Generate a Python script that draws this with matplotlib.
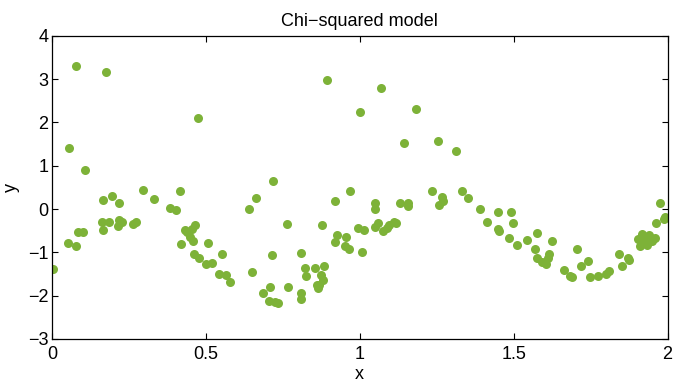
import numpy as np
import matplotlib
matplotlib.use("Agg")
import matplotlib.pyplot as plt

# values
x_vals = [0.004, 0.052, 0.055, 0.077, 0.077, 0.085, 0.100, 0.107, 0.162, 0.165,
          0.167, 0.177, 0.186, 0.195, 0.216, 0.218, 0.218, 0.226, 0.262, 0.273,
          0.295, 0.332, 0.382, 0.403, 0.415, 0.418, 0.431, 0.440, 0.447, 0.456,
          0.457, 0.460, 0.464, 0.476, 0.478, 0.500, 0.508, 0.520, 0.542, 0.554,
          0.564, 0.577, 0.639, 0.650, 0.664, 0.685, 0.706, 0.708, 0.716, 0.719,
          0.725, 0.735, 0.763, 0.766, 0.808, 0.809, 0.809, 0.821, 0.826, 0.856,
          0.860, 0.863, 0.869, 0.874, 0.876, 0.880, 0.884, 0.894, 0.918, 0.920,
          0.925, 0.953, 0.954, 0.964, 0.967, 0.995, 1.002, 1.008, 1.014, 1.048,
          1.048, 1.051, 1.060, 1.070, 1.077, 1.089, 1.095, 1.110, 1.119, 1.132,
          1.145, 1.157, 1.158, 1.183, 1.236, 1.255, 1.259, 1.266, 1.271, 1.312,
          1.332, 1.353, 1.389, 1.413, 1.449, 1.449, 1.451, 1.484, 1.491, 1.499,
          1.512, 1.543, 1.576, 1.570, 1.576, 1.593, 1.604, 1.613, 1.615, 1.623,
          1.663, 1.682, 1.688, 1.706, 1.719, 1.741, 1.749, 1.775, 1.801, 1.810,
          1.842, 1.853, 1.870, 1.876, 1.903, 1.909, 1.918, 1.925, 1.934, 1.939,
          1.948, 1.958, 1.963, 1.975, 1.988, 1.992]
y_vals = [-1.38, -0.78, 1.41, 3.30, -0.86, -0.53, -0.54, 0.90, -0.29, 0.21,
          -0.49, 3.17, -0.29, 0.31, -0.40, 0.15, -0.26, -0.30, -0.34, -0.31,
          0.43, 0.22, 0.02, -0.03, 0.42, -0.80, -0.49, -0.53, -0.65, -0.47,
          -0.75, -1.03, -0.37, 2.10, -1.14, -1.26, -0.79, -1.24, -1.51, -1.03,
          -1.52, -1.69, -0.01, -1.45, 0.25, -1.95, -2.13, -1.80, -1.06, 0.65,
          -2.15, -2.17, -0.35, -1.80, -1.94, -2.07, -1.02, -1.37, -1.54, -1.36,
          -1.75, -1.82, -1.75, -1.52, -0.37, -1.65, -1.32, 2.99, 0.19, -0.76,
          -0.60, -0.86, -0.65, -0.92, 0.42, -0.44, 2.24, -0.99, -0.49, 0.15,
          -0.42, 0.00, -0.32, 2.79, -0.51, -0.43, -0.36, -0.31, -0.32, 0.14,
          1.53, 0.15, 0.07, 2.30, 0.42, 1.58, 0.10, 0.28, 0.18, 1.35,
          0.42, 0.26, 0.01, -0.31, -0.06, -0.46, -0.50, -0.66, -0.06, -0.32,
          -0.83, -0.71, -0.56, -0.93, -1.14, -1.23, -1.28, -1.14, -1.03, -0.74,
          -1.41, -1.55, -1.58, -0.93, -1.32, -1.21, -1.58, -1.54, -1.51, -1.44,
          -1.03, -1.32, -1.14, -1.17, -0.69, -0.86, -0.57, -0.71, -0.83, -0.61,
          -0.73, -0.66, -0.32, 0.13, -0.23, -0.19]
x_ticks = [0, 0.5, 1, 1.5, 2]
x_tick_labels = ['0', '0.5', '1', '1.5', '2']
y_ticks = [-3, -2, -1, 0, 1, 2, 3, 4]

plt.rcParams['font.family'] = ['Liberation Sans', 'DejaVu Sans']

fig = plt.figure(figsize=(6.75, 3.82), dpi=100)
ax = fig.add_axes([0.077, 0.113, 0.912, 0.793])
ax.plot(x_vals, y_vals, 'o', color='#7db238', markersize=6.5, markeredgewidth=0)

ax.set_xlim(0, 2)
ax.set_ylim(-3, 4)
ax.set_xticks(x_ticks)
ax.set_xticklabels(x_tick_labels)
ax.set_yticks(y_ticks)
ax.tick_params(direction='in', top=True, right=True, length=4, width=0.8,
               labelsize=13)
ax.tick_params(axis='x', pad=5.5)
ax.tick_params(axis='y', pad=2.5)
for s in ax.spines.values():
    s.set_linewidth(0.9)

ax.set_title('Chi\u2212squared model', fontsize=13, pad=7)
ax.set_xlabel('x', fontsize=13, labelpad=2)
ax.set_ylabel('y', fontsize=13, labelpad=6)

fig.savefig('out.png', dpi=100)
